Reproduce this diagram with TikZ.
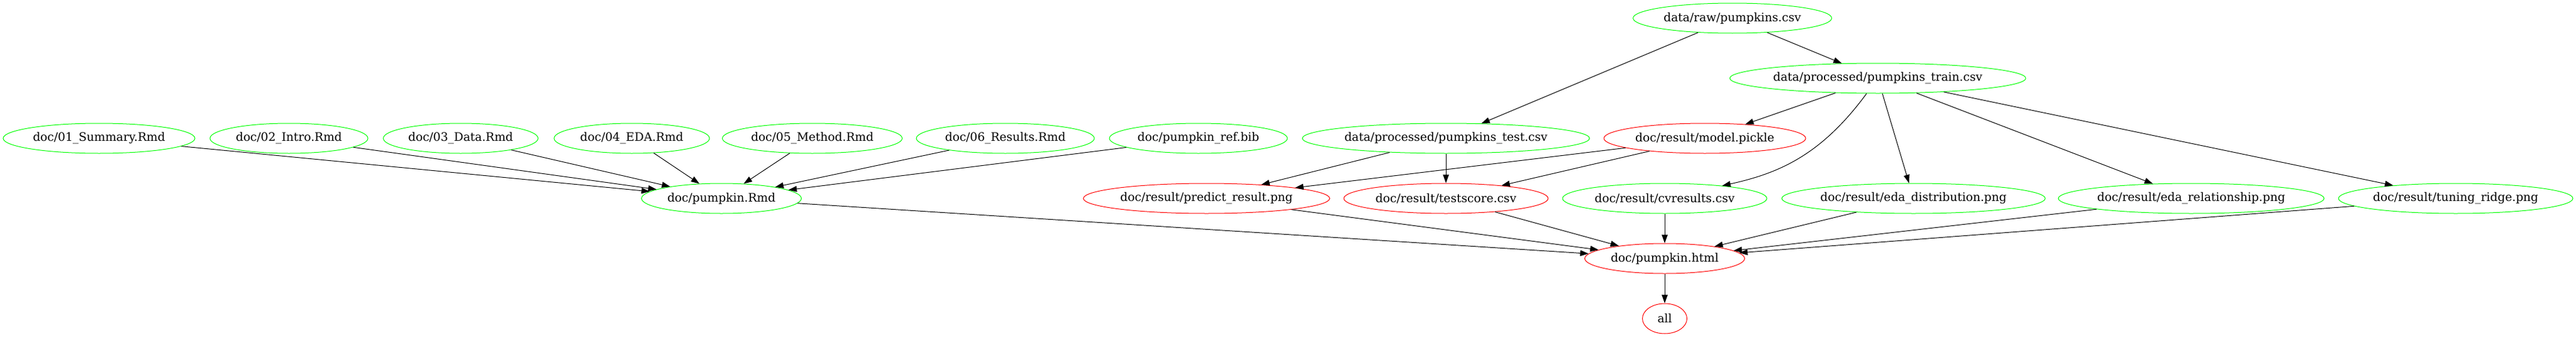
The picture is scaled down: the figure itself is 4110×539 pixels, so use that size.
\documentclass[tikz,border=0pt]{standalone}
\usepackage{fontspec}
\setmainfont{DejaVu Serif}
\usetikzlibrary{shapes.geometric,arrows.meta}
\definecolor{gvgreen}{HTML}{00FF00}
\definecolor{gvred}{HTML}{FF0000}
\tikzset{
  gnode/.style={ellipse, draw, line width=0.75pt, inner sep=0pt, minimum height=36pt,
    font=\fontsize{14}{16}\selectfont, text=black},
  okn/.style={gnode, draw=gvgreen},
  badn/.style={gnode, draw=gvred},
  dep/.style={draw=black, line width=0.75pt, -{Triangle[length=10pt,width=7pt]}},
}
\begin{document}
\begin{tikzpicture}[x=0.75pt,y=-0.75pt]
\useasboundingbox (0,0) rectangle (4110,539);
% row 1
\node[okn, minimum width=237.75pt] (raw) at (2764,29) {data/raw/pumpkins.csv};
% row 2
\node[okn, minimum width=351.75pt] (train) at (2996,125) {data/processed/pumpkins\_train.csv};
% row 3
\node[okn, minimum width=229.5pt] (sum) at (158,221) {doc/01\_Summary.Rmd};
\node[okn, minimum width=189pt] (intro) at (461,221) {doc/02\_Intro.Rmd};
\node[okn, minimum width=185.25pt] (data) at (735,221) {doc/03\_Data.Rmd};
\node[okn, minimum width=186pt] (eda) at (1008,221) {doc/04\_EDA.Rmd};
\node[okn, minimum width=215.25pt] (meth) at (1296,221) {doc/05\_Method.Rmd};
\node[okn, minimum width=213pt] (res) at (1604,221) {doc/06\_Results.Rmd};
\node[okn, minimum width=213pt] (bib) at (1912,221) {doc/pumpkin\_ref.bib};
\node[okn, minimum width=342.75pt] (test) at (2307,221) {data/processed/pumpkins\_test.csv};
\node[badn, minimum width=241.5pt] (model) at (2720,221) {doc/result/model.pickle};
% row 4
\node[okn, minimum width=191.25pt] (rmd) at (1151,317) {doc/pumpkin.Rmd};
\node[badn, minimum width=294.75pt] (pred) at (1925,317) {doc/result/predict\_result.png};
\node[badn, minimum width=244.5pt] (score) at (2307,317) {doc/result/testscore.csv};
\node[okn, minimum width=244.5pt] (cv) at (2656,317) {doc/result/cvresults.csv};
\node[okn, minimum width=313.5pt] (edad) at (3053,317) {doc/result/eda\_distribution.png};
\node[okn, minimum width=314.25pt] (edar) at (3496,317) {doc/result/eda\_relationship.png};
\node[okn, minimum width=280.5pt] (tune) at (3918,317) {doc/result/tuning\_ridge.png};
% row 5, 6
\node[badn, minimum width=191.25pt] (html) at (2656,413) {doc/pumpkin.html};
\node[badn, minimum width=53.25pt] (all) at (2656,509) {all};
% edges
\foreach \s in {sum,intro,data,eda,meth,res,bib} \draw[dep] (\s) -- (rmd);
\draw[dep] (raw) -- (test);
\draw[dep] (raw) -- (train);
\draw[dep] (train) -- (model);
\draw[dep] (train) .. controls (2905,249) and (2837,277) .. (cv);
\draw[dep] (train) -- (edad);
\draw[dep] (train) -- (edar);
\draw[dep] (train) -- (tune);
\draw[dep] (test) -- (pred);
\draw[dep] (test) -- (score);
\draw[dep] (model) -- (pred);
\draw[dep] (model) -- (score);
\foreach \s in {rmd,pred,score,cv,edad,edar,tune} \draw[dep] (\s) -- (html);
\draw[dep] (html) -- (all);
\end{tikzpicture}
\end{document}
